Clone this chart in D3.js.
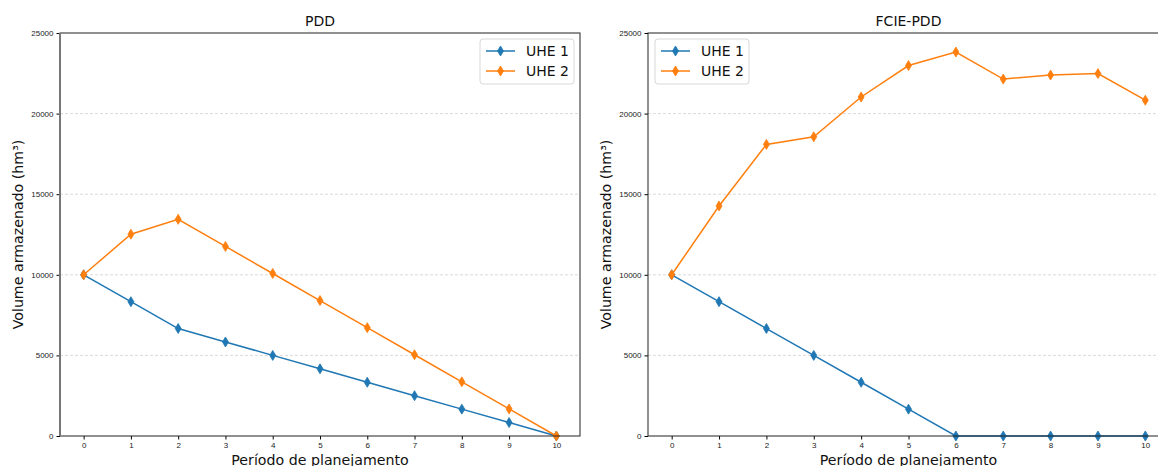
<!DOCTYPE html>
<html>
<head>
<meta charset="utf-8">
<script src="https://cdn.jsdelivr.net/npm/d3@7"></script>
<style>
  body { margin: 0; background: #fff; overflow: hidden; }
  svg { font-family: "DejaVu Sans", sans-serif; display: block; }
  .grid line { stroke: #d0d0d0; stroke-dasharray: 3,2; stroke-width: 0.8; }
  .tick text { font-size: 8px; fill: #222; }
</style>
</head>
<body>
<svg id="chart"></svg>
<script>
var width = 1158,
  height = 466;

var periods = d3.range(0, 11);
var seriesNames = ['UHE 1', 'UHE 2'];
var colors = ['#1f77b4', '#ff7f0e'];
var yTicks = [0, 5000, 10000, 15000, 20000, 25000];

// PDD
var pddUhe1 = [10000, 8333, 6667, 5833, 5000, 4167, 3333, 2500, 1667, 833, 0];
var pddUhe2 = [10000, 12520, 13440, 11760, 10080, 8400, 6720, 5040, 3360, 1680, 0];

// FCIE-PDD
var fcieUhe1 = [10000, 8333, 6667, 5000, 3333, 1667, 0, 0, 0, 0, 0];
var fcieUhe2 = [10000, 14270, 18090, 18560, 21030, 22980, 23820, 22140, 22390, 22480, 20830];

var panels = [
  { title: 'PDD', left: 60, right: 580, series: [pddUhe1, pddUhe2], legend: 'right', grayLeft: true },
  { title: 'FCIE-PDD', left: 648, right: 1169, series: [fcieUhe1, fcieUhe2], legend: 'left', grayLeft: false }
];

var plotTop = 33, plotBottom = 436;

var svg = d3.select('#chart')
  .attr('width', width)
  .attr('height', height);

var y = d3.scaleLinear()
  .domain([0, 25000])
  .range([plotBottom, plotTop]);

function diamond(g, cx, cy, color) {
  g.append('path')
    .attr('d', 'M' + cx + ',' + (cy - 5) + 'L' + (cx + 3) + ',' + cy + 'L' + cx + ',' + (cy + 5) + 'L' + (cx - 3) + ',' + cy + 'Z')
    .attr('fill', color)
    .attr('stroke', color)
    .attr('stroke-width', 0.8);
}

panels.forEach(function(p) {
  var x = d3.scaleLinear()
    .domain([-0.5, 10.5])
    .range([p.left, p.right]);

  var g = svg.append('g');

  // grid
  g.append('g')
    .attr('class', 'grid')
    .selectAll('line')
    .data(yTicks.slice(1, -1))
    .enter().append('line')
    .attr('x1', p.left)
    .attr('x2', p.right)
    .attr('y1', function(d) { return y(d); })
    .attr('y2', function(d) { return y(d); });

  // axes
  g.append('g')
    .attr('transform', 'translate(0,' + plotBottom + ')')
    .call(d3.axisBottom(x).tickValues(periods).tickSize(3.5).tickPadding(3).tickFormat(d3.format('d')))
    .call(function(a) { a.select('.domain').remove(); });

  g.append('g')
    .attr('transform', 'translate(' + p.left + ',0)')
    .call(d3.axisLeft(y).tickValues(yTicks).tickSize(3.5).tickPadding(3).tickFormat(d3.format('d')))
    .call(function(a) { a.select('.domain').remove(); });

  // lines
  p.series.forEach(function(vals, i) {
    var line = d3.line()
      .x(function(d, j) { return x(periods[j]); })
      .y(function(d) { return y(d); });
    g.append('path')
      .datum(vals)
      .attr('fill', 'none')
      .attr('stroke', colors[i])
      .attr('stroke-width', 1.5)
      .attr('d', line);
    vals.forEach(function(v, j) { diamond(g, x(periods[j]), y(v), colors[i]); });
  });

  // spines
  g.append('rect')
    .attr('x', p.left)
    .attr('y', plotTop)
    .attr('width', p.right - p.left)
    .attr('height', plotBottom - plotTop)
    .attr('fill', 'none')
    .attr('stroke', '#222')
    .attr('stroke-width', 1);
  if (p.grayLeft) {
    g.append('line')
      .attr('x1', p.left).attr('x2', p.left)
      .attr('y1', plotTop).attr('y2', plotBottom)
      .attr('stroke', '#777')
      .attr('stroke-width', 2);
  }

  // title
  g.append('text')
    .attr('x', (p.left + p.right) / 2)
    .attr('y', plotTop - 7)
    .attr('text-anchor', 'middle')
    .attr('font-size', 14)
    .attr('fill', '#111')
    .text(p.title);

  // axis labels
  g.append('text')
    .attr('x', (p.left + p.right) / 2)
    .attr('y', plotBottom + 29)
    .attr('text-anchor', 'middle')
    .attr('font-size', 14.2)
    .attr('fill', '#111')
    .text('Período de planejamento');

  g.append('text')
    .attr('transform', 'translate(' + (p.left - 37) + ',' + ((plotTop + plotBottom) / 2) + ')rotate(-90)')
    .attr('text-anchor', 'middle')
    .attr('font-size', 14.2)
    .attr('fill', '#111')
    .text('Volume armazenado (hm³)');

  // legend
  var lw = 94, lh = 45;
  var lx = p.legend === 'right' ? p.right - 6 - lw : p.left + 7;
  var ly = plotTop + 6;
  var leg = g.append('g').attr('transform', 'translate(' + lx + ',' + ly + ')');
  leg.append('rect')
    .attr('width', lw)
    .attr('height', lh)
    .attr('rx', 3)
    .attr('fill', '#fff')
    .attr('fill-opacity', 0.85)
    .attr('stroke', '#d8d8d8');
  seriesNames.forEach(function(name, i) {
    var cy = 12 + i * 20;
    leg.append('line')
      .attr('x1', 6).attr('x2', 35)
      .attr('y1', cy).attr('y2', cy)
      .attr('stroke', colors[i])
      .attr('stroke-width', 1.5);
    diamond(leg, 20.5, cy, colors[i]);
    leg.append('text')
      .attr('x', 46)
      .attr('y', cy + 5)
      .attr('font-size', 14)
      .attr('fill', '#111')
      .text(name);
  });
});
</script>
</body>
</html>
